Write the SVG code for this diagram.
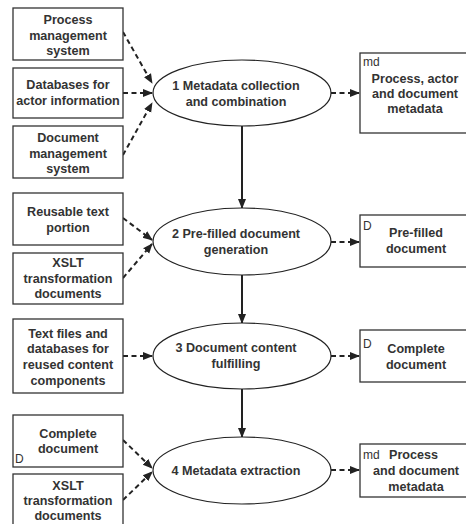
<svg xmlns="http://www.w3.org/2000/svg" width="466" height="524" viewBox="0 0 466 524">
<style>
.box{fill:#fff;stroke:#333;stroke-width:1.3}
.ell{fill:#fff;stroke:#222;stroke-width:1.2}
.t{font-family:"Liberation Sans",Arial,sans-serif;font-weight:bold;font-size:12.6px;fill:#333;text-anchor:middle}
.s{font-family:"Liberation Sans",Arial,sans-serif;font-size:12px;fill:#333}
.d{fill:none;stroke:#222;stroke-width:2;stroke-dasharray:5,3.5}
.v{fill:none;stroke:#222;stroke-width:2}
</style>
<defs>
<marker id="ah" markerUnits="userSpaceOnUse" markerWidth="10" markerHeight="10" viewBox="0 0 10 10" refX="9" refY="5" orient="auto">
<path d="M0,1 L10,5 L0,9 Z" fill="#222"/>
</marker>
</defs>
<g id="connectors">
<line class="d" x1="123" y1="32" x2="152" y2="83" marker-end="url(#ah)"/>
<line class="d" x1="123" y1="93" x2="152" y2="93" marker-end="url(#ah)"/>
<line class="d" x1="123" y1="155" x2="152" y2="103" marker-end="url(#ah)"/>
<line class="d" x1="331" y1="93" x2="359" y2="93" marker-end="url(#ah)"/>
<line class="v" x1="242" y1="126" x2="242" y2="208" marker-end="url(#ah)"/>
<line class="d" x1="123" y1="218" x2="152" y2="240" marker-end="url(#ah)"/>
<line class="d" x1="123" y1="278" x2="152" y2="244" marker-end="url(#ah)"/>
<line class="d" x1="331" y1="242" x2="359" y2="242" marker-end="url(#ah)"/>
<line class="v" x1="242" y1="275" x2="242" y2="323" marker-end="url(#ah)"/>
<line class="d" x1="123" y1="356" x2="152" y2="356" marker-end="url(#ah)"/>
<line class="d" x1="331" y1="356" x2="359" y2="356" marker-end="url(#ah)"/>
<line class="v" x1="242" y1="389" x2="242" y2="437" marker-end="url(#ah)"/>
<line class="d" x1="123" y1="440" x2="152" y2="468" marker-end="url(#ah)"/>
<line class="d" x1="123" y1="500" x2="152" y2="472" marker-end="url(#ah)"/>
<line class="d" x1="331" y1="470" x2="359" y2="470" marker-end="url(#ah)"/>
</g>
<g id="n-pms">
<rect class="box" x="13" y="8" width="110" height="52"/>
<text class="t" x="68" y="24">Process</text>
<text class="t" x="68" y="39.5">management</text>
<text class="t" x="68" y="55">system</text>
</g>
<g id="n-db-actor">
<rect class="box" x="13" y="68" width="110" height="50"/>
<text class="t" x="68" y="89">Databases for</text>
<text class="t" x="68" y="105">actor information</text>
</g>
<g id="n-dms">
<rect class="box" x="13" y="126" width="110" height="52"/>
<text class="t" x="68" y="142">Document</text>
<text class="t" x="68" y="157.5">management</text>
<text class="t" x="68" y="173">system</text>
</g>
<g id="p1">
<ellipse class="ell" cx="242" cy="93" rx="89" ry="33"/>
<text class="t" x="236" y="90">1 Metadata collection</text>
<text class="t" x="236" y="105.5">and combination</text>
</g>
<g id="o1">
<rect class="box" x="360" y="53" width="110" height="80"/>
<text class="s" x="363" y="66">md</text>
<text class="t" x="415" y="83">Process, actor</text>
<text class="t" x="415" y="98">and document</text>
<text class="t" x="415" y="113">metadata</text>
</g>
<g id="n-reusable">
<rect class="box" x="13" y="193" width="110" height="52"/>
<text class="t" x="68" y="216">Reusable text</text>
<text class="t" x="68" y="232">portion</text>
</g>
<g id="n-xslt1">
<rect class="box" x="13" y="253" width="110" height="51"/>
<text class="t" x="68" y="267">XSLT</text>
<text class="t" x="68" y="283">transformation</text>
<text class="t" x="68" y="298">documents</text>
</g>
<g id="p2">
<ellipse class="ell" cx="242" cy="241.5" rx="89" ry="33.5"/>
<text class="t" x="236" y="238">2 Pre-filled document</text>
<text class="t" x="236" y="254">generation</text>
</g>
<g id="o2">
<rect class="box" x="360" y="215" width="110" height="52"/>
<text class="s" x="363" y="230">D</text>
<text class="t" x="416" y="237">Pre-filled</text>
<text class="t" x="416" y="253">document</text>
</g>
<g id="n-textfiles">
<rect class="box" x="13" y="319" width="110" height="74"/>
<text class="t" x="68" y="338">Text files and</text>
<text class="t" x="68" y="353">databases for</text>
<text class="t" x="68" y="369">reused content</text>
<text class="t" x="68" y="385">components</text>
</g>
<g id="p3">
<ellipse class="ell" cx="242" cy="356" rx="89" ry="33"/>
<text class="t" x="236" y="352">3 Document content</text>
<text class="t" x="236" y="368">fulfilling</text>
</g>
<g id="o3">
<rect class="box" x="360" y="330" width="110" height="52"/>
<text class="s" x="363" y="348">D</text>
<text class="t" x="416" y="353">Complete</text>
<text class="t" x="416" y="369">document</text>
</g>
<g id="n-complete">
<rect class="box" x="13" y="415" width="110" height="52"/>
<text class="t" x="68" y="438">Complete</text>
<text class="t" x="68" y="453">document</text>
<text class="s" x="15" y="463">D</text>
</g>
<g id="n-xslt2">
<rect class="box" x="13" y="474" width="110" height="56"/>
<text class="t" x="68" y="490">XSLT</text>
<text class="t" x="68" y="505">transformation</text>
<text class="t" x="68" y="520">documents</text>
</g>
<g id="p4">
<ellipse class="ell" cx="242" cy="470.5" rx="89" ry="33.5"/>
<text class="t" x="236" y="475">4 Metadata extraction</text>
</g>
<g id="o4">
<rect class="box" x="360" y="444" width="110" height="53"/>
<text class="s" x="363" y="459">md</text>
<text class="t" x="389" y="459" style="text-anchor:start">Process</text>
<text class="t" x="416" y="475">and document</text>
<text class="t" x="416" y="491">metadata</text>
</g>
</svg>
